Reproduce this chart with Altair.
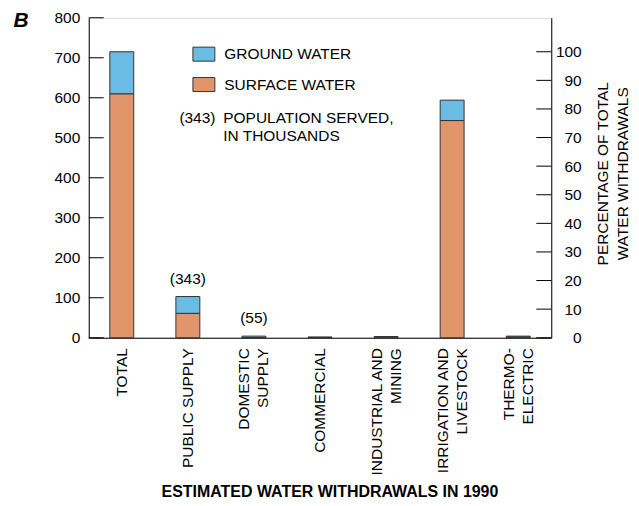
import altair as alt
import pandas as pd

categories = ["TOTAL", "PUBLIC SUPPLY", "DOMESTIC|SUPPLY", "COMMERCIAL",
              "INDUSTRIAL AND|MINING", "IRRIGATION AND|LIVESTOCK", "THERMO-|ELECTRIC"]
surface_water = [610, 61, 0.5, 0.6, 1.0, 543, 2.0]
ground_water = [105, 42, 3.5, 1.4, 2.0, 51, 2.0]
population = ["", "(343)", "(55)", "", "", "", ""]
left_ticks = [0, 100, 200, 300, 400, 500, 600, 700, 800]
pct_ticks = [0, 10, 20, 30, 40, 50, 60, 70, 80, 90, 100]
sources = ["GROUND WATER", "SURFACE WATER"]
colors = ["#6BBCE4", "#E0966A"]

FONT = "Liberation Sans"
FS = 15.5
total_withdrawal = surface_water[0] + ground_water[0]

rows = []
for c, s, g in zip(categories, surface_water, ground_water):
    rows.append({"category": c, "source": "SURFACE WATER", "value": s, "order": 0})
    rows.append({"category": c, "source": "GROUND WATER", "value": g, "order": 1})
bars_df = pd.DataFrame(rows)

ann_df = pd.DataFrame({
    "category": categories,
    "total": [s + g for s, g in zip(surface_water, ground_water)],
    "pop": population,
})
ann_df = ann_df[ann_df["pop"] != ""]

xenc = alt.X("category:N", sort=categories, title=None,
             axis=alt.Axis(labelAngle=270, labelExpr="split(datum.label, '|')",
                           labelFontSize=FS, labelLineHeight=19, labelPadding=10,
                           labelOffset={"expr": "indexof(datum.value, '|') >= 0 ? -9.5 : 0"},
                           ticks=False, tickSize=0, domainColor="black",
                           labelColor="black", labelFont=FONT, labelLimit=300))

yscale = alt.Scale(domain=[0, 800], nice=False)

bars = alt.Chart(bars_df).mark_bar(size=24, stroke="#333333", strokeWidth=1).encode(
    x=xenc,
    y=alt.Y("value:Q", stack="zero", scale=yscale, title=None,
            axis=alt.Axis(orient="left", values=left_ticks, grid=False, ticks=False,
                          tickSize=0, labelPadding=9, labelFontSize=FS, labelFont=FONT,
                          labelColor="black", domainColor="black")),
    color=alt.Color("source:N", scale=alt.Scale(domain=sources, range=colors),
                    legend=alt.Legend(orient="none", legendX=104, legendY=25, title=None,
                                      symbolType="M-1,-0.64H1V0.64H-1Z", symbolSize=484,
                                      symbolStrokeColor="#333333", symbolStrokeWidth=1,
                                      symbolOpacity=1, labelOffset=9, rowPadding=9.5,
                                      padding=0)),
    order=alt.Order("order:Q"),
)

ann = alt.Chart(ann_df).mark_text(dy=-18, fontSize=FS, font=FONT, color="black").encode(
    x=xenc,
    y=alt.Y("total:Q", scale=yscale, axis=None),
    text="pop:N",
)

lticks = alt.Chart(pd.DataFrame({"v": left_ticks})).mark_rule(color="black").encode(
    y=alt.Y("v:Q", scale=yscale, axis=None),
    x=alt.value(0), x2=alt.value(15),
)

rticks = alt.Chart(pd.DataFrame({"p": pct_ticks})).mark_rule(color="black").encode(
    y=alt.Y("p:Q", scale=alt.Scale(domain=[0, 800 / total_withdrawal * 100], nice=False),
            title=["PERCENTAGE OF TOTAL", "WATER WITHDRAWALS"],
            axis=alt.Axis(orient="right", values=pct_ticks, grid=False, ticks=False,
                          tickSize=0, labelPadding=30, labelAlign="right",
                          labelFontSize=FS, labelFont=FONT, labelColor="black",
                          domainColor="black", titleAngle=270, titleFontSize=FS,
                          titleFont=FONT, titleFontWeight="normal", titleColor="black",
                          titleLineHeight=21, titleX=51, titleY=156,
                          titleBaseline="middle", titleAlign="center")),
    x=alt.value(449), x2=alt.value(464),
)

legend_note = alt.layer(
    alt.Chart().mark_text(text="(343)", fontSize=FS, font=FONT, color="black",
                          align="center", baseline="middle").encode(
        x=alt.value(109), y=alt.value(101)),
    alt.Chart().mark_text(text="POPULATION SERVED,", fontSize=FS, font=FONT, color="black",
                          align="left", baseline="middle").encode(
        x=alt.value(135), y=alt.value(101)),
    alt.Chart().mark_text(text="IN THOUSANDS", fontSize=FS, font=FONT, color="black",
                          align="left", baseline="middle").encode(
        x=alt.value(135), y=alt.value(119)),
)

panel_letter = alt.Chart().mark_text(text="B", fontSize=21, font=FONT, fontWeight="bold",
                                     fontStyle="italic", color="black",
                                     align="center", baseline="middle").encode(
    x=alt.value(-68), y=alt.value(3))

xtitle = alt.Chart().mark_text(text="ESTIMATED WATER WITHDRAWALS IN 1990", fontSize=16,
                               font=FONT, fontWeight="bold", color="black",
                               align="center", baseline="middle").encode(
    x=alt.value(242), y=alt.value(476))

chart = alt.layer(bars, ann, lticks, rticks, legend_note, panel_letter, xtitle).resolve_scale(
    y="independent"
).properties(
    width=464, height=321,
    padding={"left": 81, "top": 9, "right": 80, "bottom": 166},
    autosize=alt.AutoSizeParams(type="none"),
).configure_view(stroke="black", strokeWidth=1).configure(font=FONT).configure_legend(
    labelFontSize=FS, labelFont=FONT, labelColor="black"
)

chart.save("out.html", embed_options={"renderer": "svg", "actions": False})
